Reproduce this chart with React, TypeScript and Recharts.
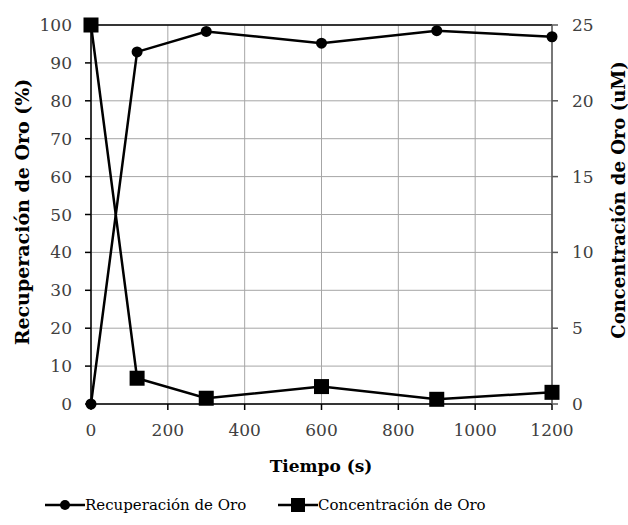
import React from "react";
import {
  LineChart,
  Line,
  XAxis,
  YAxis,
  CartesianGrid,
  ReferenceLine,
} from "recharts";

const tiempo = [0, 120, 300, 600, 900, 1200];
const recuperacion = [0, 92.9, 98.3, 95.2, 98.5, 96.9];
const concentracion = [25, 1.7, 0.38, 1.15, 0.31, 0.77];

const xTicks = [0, 200, 400, 600, 800, 1000, 1200];
const leftTicks = [0, 10, 20, 30, 40, 50, 60, 70, 80, 90, 100];
const rightTicks = [0, 5, 10, 15, 20, 25];

const data = tiempo.map((t, i) => ({
  t,
  rec: recuperacion[i],
  conc: concentracion[i],
}));

// Liberation Serif does not resolve here, DejaVu Serif does
const FONT = "'DejaVu Serif', serif";
const tickStyle = { fill: "#404040", fontSize: 17, fontFamily: FONT };

const SquareDot = (props: any) => {
  const { cx, cy } = props;
  if (cx == null || cy == null) return null;
  return <rect x={cx - 7.5} y={cy - 7.5} width={15} height={15} fill="#000" />;
};

const titleStyle: React.CSSProperties = {
  position: "absolute",
  whiteSpace: "nowrap",
  fontFamily: FONT,
  fontWeight: "bold",
  fontSize: 17,
  color: "#000",
};

const legendItem: React.CSSProperties = {
  position: "absolute",
  top: 495,
  display: "flex",
  alignItems: "center",
  whiteSpace: "nowrap",
  fontFamily: FONT,
  fontSize: 15,
  color: "#000",
};

const App: React.FC = () => {
  return (
    <div
      style={{
        position: "absolute",
        left: 0,
        top: 0,
        width: 628,
        height: 525,
        background: "#fff",
        fontFamily: FONT,
        overflow: "hidden",
      }}
    >
      <LineChart
        width={628}
        height={525}
        data={data}
        margin={{ top: 25, right: 0, left: 0, bottom: 91 }}
        style={{ fontFamily: FONT }}
      >
        <CartesianGrid stroke="#a6a6a6" strokeWidth={1} horizontalValues={leftTicks} verticalValues={xTicks} yAxisId="left" />
        <XAxis
          dataKey="t"
          type="number"
          domain={[0, 1200]}
          ticks={xTicks}
          height={30}
          tick={tickStyle}
          tickSize={6}
          tickMargin={14}
          stroke="#000"
          strokeWidth={1.5}
        />
        <YAxis
          yAxisId="left"
          domain={[0, 100]}
          ticks={leftTicks}
          width={91}
          tick={tickStyle}
          tickSize={6}
          tickMargin={13}
          stroke="#000"
          strokeWidth={1.5}
          interval={0}
        />
        <YAxis
          yAxisId="right"
          orientation="right"
          domain={[0, 25]}
          ticks={rightTicks}
          width={76}
          tick={tickStyle}
          tickSize={6}
          tickMargin={14}
          stroke="#595959"
          strokeWidth={1.5}
          interval={0}
        />
        <ReferenceLine yAxisId="left" y={100} stroke="#000" strokeWidth={1.5} />
        <Line
          yAxisId="left"
          dataKey="rec"
          stroke="#000"
          strokeWidth={2.5}
          dot={{ r: 5.5, fill: "#000", stroke: "#000", strokeWidth: 0 }}
          isAnimationActive={false}
        />
        <Line
          yAxisId="right"
          dataKey="conc"
          stroke="#000"
          strokeWidth={2.5}
          dot={<SquareDot />}
          isAnimationActive={false}
        />
      </LineChart>

      <div style={{ ...titleStyle, fontSize: 19, left: 22, top: 212, transform: "translate(-50%, -50%) rotate(-90deg)" }}>
        Recuperación de Oro (%)
      </div>
      <div style={{ ...titleStyle, fontSize: 18, left: 618, top: 200, transform: "translate(-50%, -50%) rotate(-90deg)" }}>
        Concentración de Oro (uM)
      </div>
      <div style={{ ...titleStyle, left: 321, top: 466, transform: "translate(-50%, -50%)" }}>
        Tiempo (s)
      </div>

      <div style={{ ...legendItem, left: 45 }}>
        <svg width={40} height={20}>
          <line x1={0} y1={10} x2={40} y2={10} stroke="#000" strokeWidth={2.5} />
          <circle cx={20} cy={10} r={5} fill="#000" />
        </svg>
        <span>Recuperación de Oro</span>
      </div>
      <div style={{ ...legendItem, left: 278 }}>
        <svg width={40} height={20}>
          <line x1={0} y1={10} x2={40} y2={10} stroke="#000" strokeWidth={2.5} />
          <rect x={13} y={3} width={14} height={14} fill="#000" />
        </svg>
        <span>Concentración de Oro</span>
      </div>
    </div>
  );
};

export default App;
